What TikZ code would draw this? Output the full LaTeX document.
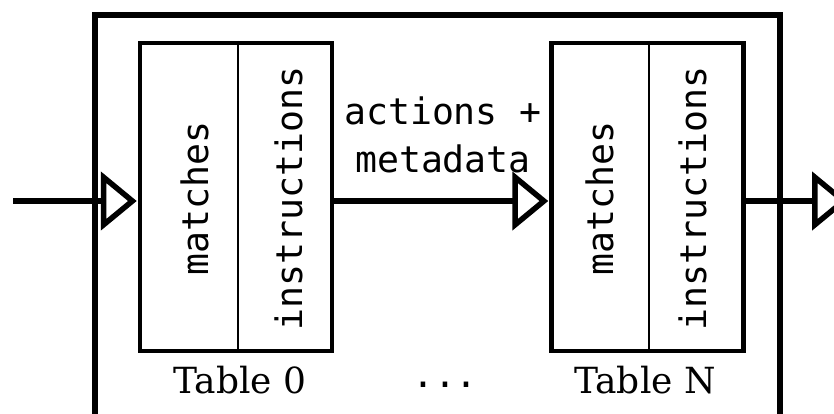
\documentclass[tikz,border=0pt]{standalone}
\usepackage{fontspec}
\setmainfont{DejaVu Serif}
\setmonofont{DejaVu Sans Mono}
\usetikzlibrary{arrows.meta,calc}

\tikzset{
  frame/.style={line width=5.5pt},
  tablebox/.style={draw, line width=4.5pt, rectangle, inner sep=0pt,
    minimum width=192pt, minimum height=308pt},
  divider/.style={line width=1.5pt},
  field/.style={font=\fontsize{36.5pt}{44pt}\selectfont\ttfamily,
    rotate=90, anchor=base, inner sep=0pt},
  flowlabel/.style={font=\fontsize{36.5pt}{44pt}\selectfont\ttfamily,
    anchor=base, inner sep=0pt},
  tablename/.style={font=\fontsize{36pt}{44pt}\selectfont,
    anchor=base, inner sep=0pt},
  flow/.style={line width=5.5pt,
    -{Triangle[open, length=36pt, width=58pt, line width=5.5pt]}},
}

\begin{document}
\begin{tikzpicture}[x=1pt, y=-1pt]
  \useasboundingbox (0,0) rectangle (834,413);

  % enclosing pipeline frame, open at the bottom
  \draw[frame] (95,420) -- (95,15) -- (780,15) -- (780,420);

  % flow tables
  \node[tablebox] (t0) at (236,197) {};
  \node[tablebox] (tn) at (647.5,197) {};
  \draw[divider] ($(t0.north)+(2,0)$) -- ($(t0.south)+(2,0)$);
  \draw[divider] ($(tn.north)+(1.5,0)$) -- ($(tn.south)+(1.5,0)$);

  \node[field] (m0) at (208,198.5) {matches};
  \node[field] (i0) at (302,198.5) {instructions};
  \node[field] (mn) at (613,198.5) {matches};
  \node[field] (in_) at (706,198.5) {instructions};

  \node[tablename] (l0) at (240,393) {Table 0};
  \node[tablename] (ln) at (645,393) {Table N};
  \node[flowlabel] (dots) at (445,387) {...};

  % packet path
  \coordinate (src) at (13,201);
  \coordinate (dst) at (848,201);
  \draw[flow, shorten >=1pt] (src) -- (src -| t0.west);
  \draw[flow, shorten >=1pt] (src -| t0.east) -- (src -| tn.west);
  \draw[flow] (src -| tn.east) -- (dst);

  \node[flowlabel] (a1) at (443,124) {actions +};
  \node[flowlabel] (a2) at (443,172) {metadata};
\end{tikzpicture}
\end{document}
